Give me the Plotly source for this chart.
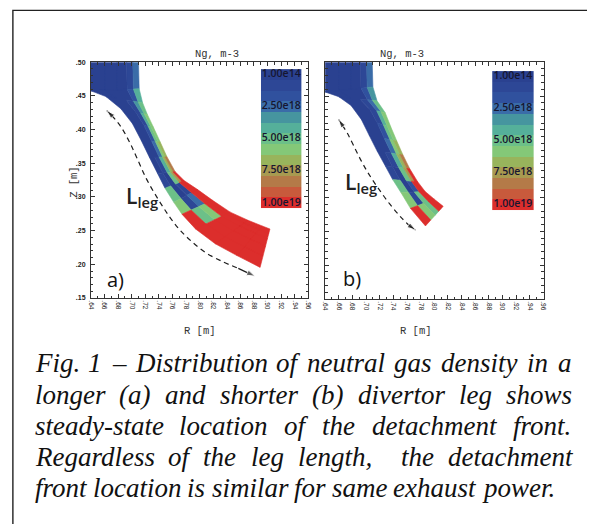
import plotly.graph_objects as go

W, H = 591, 527

# ---------------- data ----------------
# density colour levels (Ng, m-3), 13 discrete bands from 1.00e14 (0) to 1.00e19 (12)
level_colors = ["#2a4190", "#2d4796", "#30519e", "#3a6ca8", "#46959f", "#55b09a",
                "#6cc088", "#84c878", "#98b45c", "#a89a50", "#b47a48", "#c85a3c", "#dc2e2c"]
cbar_levels = [0, 1, 2, 3, 4, 5, 6, 7, 8, 9, 10, 11, 12]
cbar_tick_levels = [0, 3, 6, 9, 12]
cbar_tick_text = ["1.00e14", "2.50e18", "5.00e18", "7.50e18", "1.00e19"]

x_tick_vals = [0.64, 0.66, 0.68, 0.70, 0.72, 0.74, 0.76, 0.78, 0.80, 0.82, 0.84, 0.86, 0.88, 0.90, 0.92, 0.94, 0.96]
x_tick_text = [".64", ".66", ".68", ".70", ".72", ".74", ".76", ".78", ".80", ".82", ".84", ".86", ".88", ".90", ".92", ".94", ".96"]
y_tick_vals = [0.15, 0.20, 0.25, 0.30, 0.35, 0.40, 0.45, 0.50]
y_tick_text = [".15", ".20", ".25", ".30", ".35", ".40", ".45", ".50"]

# radial strip boundaries across the leg (fraction inner -> outer)
strip_fractions = [0.0, 0.30, 0.55, 0.75, 0.88, 1.0]

# (a) longer leg: grid stations along the leg, inner & outer boundary (R, Z in m)
leg_a_inner_R = [0.640, 0.640, 0.662, 0.684, 0.701, 0.714, 0.726, 0.738, 0.749, 0.762, 0.774, 0.794, 0.823, 0.855, 0.889]
leg_a_inner_Z = [0.500, 0.4575, 0.449, 0.431, 0.409, 0.384, 0.359, 0.335, 0.313, 0.292, 0.2745, 0.2525, 0.2305, 0.213, 0.1955]
leg_a_outer_R = [0.710, 0.711, 0.716, 0.723, 0.732, 0.742, 0.752, 0.764, 0.777, 0.797, 0.819, 0.845, 0.871, 0.892, 0.9035]
leg_a_outer_Z = [0.500, 0.4605, 0.440, 0.4225, 0.4035, 0.3815, 0.3595, 0.3375, 0.3245, 0.311, 0.295, 0.2775, 0.2655, 0.257, 0.2525]
leg_a_levels = [
    [0, 0, 0, 1, 3],
    [0, 0, 0, 2, 5],
    [0, 0, 1, 4, 6],
    [0, 0, 1, 5, 7],
    [0, 0, 2, 6, 7],
    [0, 0, 3, 7, 8],
    [0, 1, 5, 8, 10],
    [1, 0, 6, 9, 12],
    [6, 0, 1, 12, 12],
    [7, 1, 3, 12, 12],
    [12, 6, 7, 12, 12],
    [12, 12, 12, 12, 12],
    [12, 12, 12, 12, 12],
    [12, 12, 12, 12, 12],
]

# (b) shorter leg
leg_b_inner_R = [0.640, 0.640, 0.660, 0.678, 0.693, 0.7045, 0.716, 0.728, 0.739, 0.751, 0.765, 0.787]
leg_b_inner_Z = [0.500, 0.456, 0.449, 0.436, 0.4155, 0.392, 0.369, 0.347, 0.3265, 0.3075, 0.284, 0.258]
leg_b_outer_R = [0.709, 0.710, 0.716, 0.728, 0.736, 0.745, 0.754, 0.764, 0.7755, 0.7865, 0.800, 0.813]
leg_b_outer_Z = [0.500, 0.4635, 0.443, 0.4255, 0.405, 0.3835, 0.363, 0.3425, 0.3235, 0.309, 0.2975, 0.287]
leg_b_levels = [
    [0, 0, 0, 1, 3],
    [0, 0, 0, 2, 4],
    [0, 0, 1, 3, 6],
    [0, 0, 1, 5, 7],
    [0, 0, 2, 6, 7],
    [0, 0, 3, 7, 8],
    [0, 1, 5, 8, 10],
    [1, 0, 6, 9, 12],
    [6, 0, 2, 12, 12],
    [7, 1, 6, 12, 12],
    [12, 7, 6, 12, 12],
]

# L_leg arrows (R, Z); first and last points are the arrow tips
arrow_a_R = [0.6633, 0.6706, 0.6837, 0.6968, 0.7070, 0.7215, 0.7390, 0.7550, 0.7695, 0.7870, 0.8088, 0.8336, 0.8569, 0.8816]
arrow_a_Z = [0.4283, 0.4209, 0.4048, 0.3814, 0.3594, 0.3272, 0.2965, 0.2716, 0.2526, 0.2350, 0.2174, 0.2042, 0.1940, 0.1823]
arrow_b_R = [0.6596, 0.6654, 0.6726, 0.6813, 0.6929, 0.7045, 0.7190, 0.7349, 0.7509, 0.7639, 0.7726]
arrow_b_Z = [0.4155, 0.4067, 0.3950, 0.3776, 0.3542, 0.3338, 0.3120, 0.2901, 0.2711, 0.2580, 0.2522]

lleg_pos_a = (0.715, 0.2994)
lleg_pos_b = (0.6929, 0.3222)
panel_lab_a = (0.6764, 0.1779)
panel_lab_b = (0.6799, 0.1808)

caption_lines = [
    "Fig. 1 – Distribution of neutral gas density in a",
    "longer (a) and shorter (b) divertor leg shows",
    "steady-state location of the detachment front.",
    "Regardless of the leg length,  the detachment",
    "front location is similar for same exhaust power.",
]
caption_justify = [True, True, True, True, False]
caption_baselines = [373.3, 405.0, 436.7, 468.3, 500.0]

# ---------------- helpers ----------------
def px_x(px):
    return px / W


def px_y(py):
    return 1 - py / H


fig = go.Figure()


def add_leg(inR, inZ, outR, outZ, levels, xa, ya):
    polys = {}
    for i, row in enumerate(levels):
        for j, k in enumerate(row):
            f0, f1 = strip_fractions[j], strip_fractions[j + 1]
            xs, ys = polys.setdefault(k, ([], []))
            for s, f in [(i, f0), (i, f1), (i + 1, f1), (i + 1, f0), (i, f0)]:
                xs.append(inR[s] + f * (outR[s] - inR[s]))
                ys.append(inZ[s] + f * (outZ[s] - inZ[s]))
            xs.append(None)
            ys.append(None)
    for k in sorted(polys):
        xs, ys = polys[k]
        fig.add_trace(go.Scatter(x=xs, y=ys, mode="lines", fill="toself",
                                 fillcolor=level_colors[k],
                                 line=dict(color=level_colors[k], width=0.6),
                                 hoverinfo="skip", showlegend=False, xaxis=xa, yaxis=ya))


def add_arrow(R, Z, xa, ya):
    fig.add_trace(go.Scatter(x=R[1:-1], y=Z[1:-1], mode="lines",
                             line=dict(color="#1e1e1e", width=1.2, dash="5px,4px", shape="spline"),
                             hoverinfo="skip", showlegend=False, xaxis=xa, yaxis=ya))
    # arrow heads: marker at the tip, oriented along the last segment
    for h, p in ((0, 1), (-1, -2)):
        fig.add_trace(go.Scatter(x=[R[p], R[h]], y=[Z[p], Z[h]], mode="lines+markers",
                                 line=dict(color="#1e1e1e", width=1.2),
                                 marker=dict(symbol="arrow", size=[0, 9], angleref="previous",
                                             color="#1e1e1e"),
                                 hoverinfo="skip", showlegend=False, xaxis=xa, yaxis=ya))


cs = []
for k, c in enumerate(level_colors):
    cs.append([k / len(level_colors), c])
    cs.append([(k + 1) / len(level_colors), c])


def add_cbar(xa, ya):
    fig.add_trace(go.Heatmap(x=[0], y=cbar_levels, z=[[k] for k in cbar_levels],
                             zmin=-0.5, zmax=12.5, colorscale=cs, showscale=False,
                             hoverinfo="skip", xaxis=xa, yaxis=ya))
    fig.add_trace(go.Scatter(x=[0] * len(cbar_tick_levels), y=cbar_tick_levels, mode="text",
                             text=cbar_tick_text,
                             textfont=dict(family="Open Sans", size=10.5, color="#161630", weight=600),
                             hoverinfo="skip", showlegend=False, xaxis=xa, yaxis=ya))


add_leg(leg_a_inner_R, leg_a_inner_Z, leg_a_outer_R, leg_a_outer_Z, leg_a_levels, "x", "y")
add_leg(leg_b_inner_R, leg_b_inner_Z, leg_b_outer_R, leg_b_outer_Z, leg_b_levels, "x2", "y2")
add_arrow(arrow_a_R, arrow_a_Z, "x", "y")
add_arrow(arrow_b_R, arrow_b_Z, "x2", "y2")
add_cbar("x3", "y3")
add_cbar("x4", "y4")

# L_leg and panel labels
for (r, z), xa, ya in ((lleg_pos_a, "x", "y"), (lleg_pos_b, "x2", "y2")):
    fig.add_annotation(x=r, y=z, xref=xa, yref=ya, text="L<sub>leg</sub>", showarrow=False,
                       font=dict(family="Open Sans", size=21, color="#222", weight=600))
for (r, z), lab, xa, ya in ((panel_lab_a, "a)", "x", "y"), (panel_lab_b, "b)", "x2", "y2")):
    fig.add_annotation(x=r, y=z, xref=xa, yref=ya, text=lab, showarrow=False,
                       font=dict(family="Open Sans", size=20, color="#111"))

# titles and axis titles
mono = dict(family="Liberation Mono", size=10.5, color="#333")
for cx in (192, 428):
    fig.add_annotation(x=px_x(cx), y=px_y(43), xref="paper", yref="paper", text="Ng, m-3",
                       showarrow=False, font=mono)
for cx in (199, 436):
    fig.add_annotation(x=px_x(cx), y=px_y(331), xref="paper", yref="paper", text="R [m]",
                       showarrow=False, font=mono)
fig.add_annotation(x=px_x(63), y=px_y(180), xref="paper", yref="paper", text="Z [m]",
                   textangle=-90, showarrow=False, font=mono)

# caption (justified)
char_w = {" ": 250, "a": 500, "b": 500, "c": 444, "d": 500, "e": 444, "f": 278, "g": 500, "h": 500,
          "i": 278, "j": 278, "k": 444, "l": 278, "m": 722, "n": 500, "o": 500, "p": 500, "q": 500,
          "r": 389, "s": 389, "t": 278, "u": 500, "v": 444, "w": 667, "x": 444, "y": 444, "z": 389,
          "D": 722, "F": 611, "R": 611, ".": 250, ",": 250, "(": 333, ")": 333, "-": 333,
          "–": 500, "1": 500}
fs = 27
cap_left, cap_right = 32, 575


def text_w(s):
    return sum(char_w.get(c, 500) for c in s) * fs / 1000.0


for line, just, base in zip(caption_lines, caption_justify, caption_baselines):
    words, gaps, extra = [], [], 0
    for t in line.split(" "):
        if t == "":
            extra += 1
            continue
        if words:
            gaps.append(1 + extra)
        extra = 0
        words.append(t)
    widths = [text_w(w) for w in words]
    if just:
        unit = (cap_right - cap_left - sum(widths)) / sum(gaps)
    else:
        unit = char_w[" "] * fs / 1000.0
    x = cap_left
    for i, w in enumerate(words):
        fig.add_annotation(x=px_x(x - 2), y=px_y(base - 0.34 * fs), xref="paper", yref="paper",
                           text="<i>" + w + "</i>", xanchor="left", yanchor="middle",
                           showarrow=False,
                           font=dict(family="Liberation Serif", size=fs, color="#111"))
        if i < len(gaps):
            x += widths[i] + gaps[i] * unit

# outer frame of the figure
fig.add_shape(type="path", xref="paper", yref="paper",
              path=f"M {px_x(10)},0 L {px_x(10)},{px_y(6.5)} L 1,{px_y(6.5)}",
              line=dict(color="#222", width=1.4))

# ---------------- axes ----------------
common = dict(showline=True, linecolor="#333", linewidth=1, mirror="allticks", ticks="inside",
              ticklen=4, tickcolor="#333", tickwidth=1, showgrid=False, zeroline=False,
              minor=dict(ticks="inside", ticklen=2.5, tickcolor="#333", tick0=0, dtick=0.01,
                         showgrid=False))
tickfont = dict(family="Liberation Sans", size=6.5, color="#222")

xa_common = dict(common, range=[0.64, 0.96], tickmode="array", tickvals=x_tick_vals,
                 ticktext=x_tick_text, tickangle=90, tickfont=tickfont)
ya_common = dict(common, range=[0.15, 0.50], tickmode="array", tickvals=y_tick_vals,
                 ticktext=y_tick_text, tickfont=dict(tickfont, size=7, weight=600),
                 ticklabelstandoff=3)

fig.update_layout(
    width=W, height=H, margin=dict(l=0, r=0, t=0, b=0), autosize=False,
    paper_bgcolor="white", plot_bgcolor="white", showlegend=False,
    xaxis=dict(xa_common, domain=[px_x(89), px_x(309)], anchor="y"),
    yaxis=dict(ya_common, domain=[px_y(298), px_y(59)], anchor="x"),
    xaxis2=dict(xa_common, domain=[px_x(326), px_x(547)], anchor="y2"),
    yaxis2=dict(ya_common, domain=[px_y(299), px_y(59)], anchor="x2", showticklabels=False),
    xaxis3=dict(domain=[px_x(261), px_x(302)], range=[-0.5, 0.5], visible=False, anchor="y3"),
    yaxis3=dict(domain=[px_y(207), px_y(66)], range=[12.5, -0.5], visible=False, anchor="x3"),
    xaxis4=dict(domain=[px_x(495), px_x(537)], range=[-0.5, 0.5], visible=False, anchor="y4"),
    yaxis4=dict(domain=[px_y(209), px_y(68)], range=[12.5, -0.5], visible=False, anchor="x4"),
)

fig.write_html("out.html", config={"displayModeBar": False},
               post_script="document.body.style.margin='0';document.body.style.padding='0';")
